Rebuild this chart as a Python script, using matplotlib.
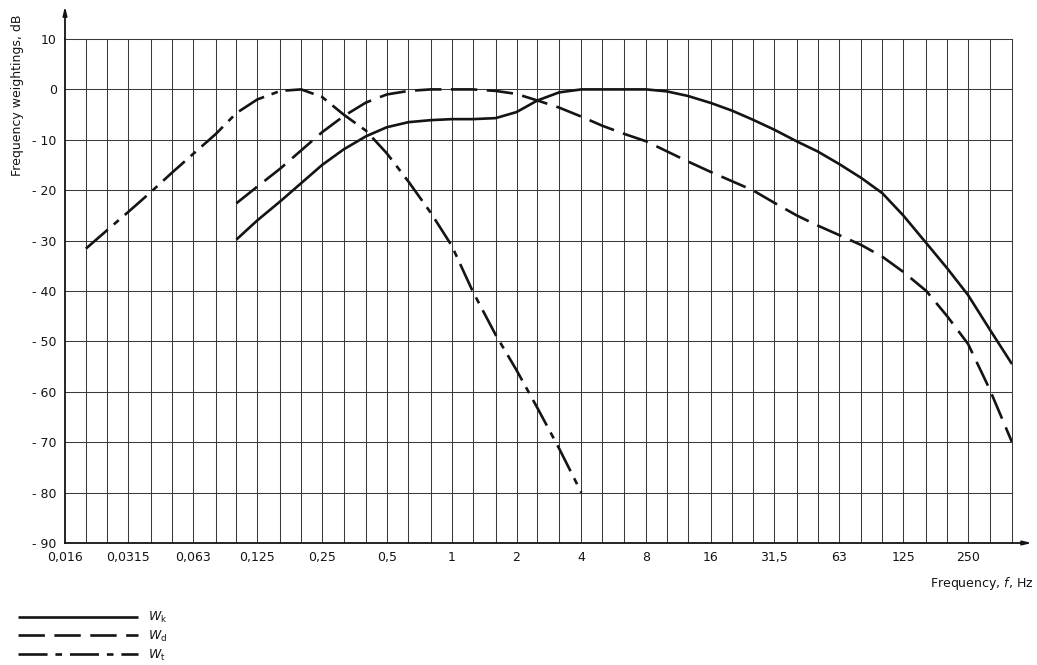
import matplotlib
matplotlib.use("Agg")
import matplotlib.pyplot as plt
from matplotlib.ticker import FixedLocator, NullFormatter

plt.rcParams['font.family'] = ['DejaVu Sans']

# Third-octave band centre frequencies (Hz) used for the grid
bands = [0.016, 0.02, 0.025, 0.0315, 0.04, 0.05, 0.063, 0.08, 0.1, 0.125, 0.16,
         0.2, 0.25, 0.315, 0.4, 0.5, 0.63, 0.8, 1, 1.25, 1.6, 2, 2.5, 3.15, 4,
         5, 6.3, 8, 10, 12.5, 16, 20, 25, 31.5, 40, 50, 63, 80, 100, 125, 160,
         200, 250, 315, 400]

# Labelled octave frequencies
tick_freqs = [0.016, 0.0315, 0.063, 0.125, 0.25, 0.5, 1, 2, 4, 8, 16, 31.5, 63, 125, 250]
tick_labels = ["0,016", "0,0315", "0,063", "0,125", "0,25", "0,5", "1", "2", "4",
               "8", "16", "31,5", "63", "125", "250"]

y_ticks = [10, 0, -10, -20, -30, -40, -50, -60, -70, -80, -90]
y_labels = ["10", "0", "- 10", "- 20", "- 30", "- 40", "- 50", "- 60", "- 70", "- 80", "- 90"]

# Wk weighting, 0.1 - 400 Hz
wk_f = [0.1, 0.125, 0.16, 0.2, 0.25, 0.315, 0.4, 0.5, 0.63, 0.8, 1, 1.25, 1.6, 2,
        2.5, 3.15, 4, 5, 6.3, 8, 10, 12.5, 16, 20, 25, 31.5, 40, 50, 63, 80, 100,
        125, 160, 200, 250, 315, 400]
wk_db = [-29.8, -26.0, -22.2, -18.6, -15.0, -11.9, -9.3, -7.5, -6.5, -6.1, -5.9,
         -5.9, -5.7, -4.5, -2.2, -0.6, 0.0, 0.0, 0.0, 0.0, -0.4, -1.3, -2.7, -4.2,
         -6.0, -8.0, -10.3, -12.3, -14.8, -17.6, -20.6, -25.0, -30.5, -35.5, -40.8,
         -47.6, -54.5]

# Wd weighting, 0.1 - 400 Hz
wd_f = wk_f
wd_db = [-22.6, -19.3, -15.7, -12.1, -8.5, -5.3, -2.6, -1.0, -0.3, 0.0, 0.0, 0.0,
         -0.3, -0.9, -2.2, -3.6, -5.4, -7.2, -8.8, -10.3, -12.3, -14.3, -16.4,
         -18.2, -20.0, -22.5, -25.0, -27.0, -28.9, -30.9, -33.2, -36.2, -40.0,
         -45.0, -50.5, -59.5, -70.0]

# Wt weighting, 0.02 - 4 Hz
wt_f = [0.02, 0.025, 0.0315, 0.04, 0.05, 0.063, 0.08, 0.1, 0.125, 0.16, 0.2, 0.25,
        0.315, 0.4, 0.5, 0.63, 0.8, 1, 1.25, 1.6, 2, 2.5, 3.15, 4]
wt_db = [-31.6, -28.0, -24.3, -20.4, -16.6, -12.8, -8.9, -4.7, -2.0, -0.3, 0.0,
         -1.5, -5.0, -8.2, -12.7, -18.3, -24.5, -31.0, -40.0, -48.7, -55.7, -63.2,
         -71.2, -80.0]

ink = "#141414"
grid_ink = "#3a3a3a"

fig = plt.figure(figsize=(10.37, 6.65), dpi=100)
ax = fig.add_axes([65 / 1037, 1 - 543 / 665, (1012 - 65) / 1037, (543 - 39) / 665])

ax.set_xscale("log")
ax.set_xlim(bands[0], bands[-1])
ax.set_ylim(-90, 10)

# grid: every third-octave band and every 10 dB
for f in bands[1:-1]:
    ax.axvline(f, color=grid_ink, lw=0.75, zorder=1)
for y in y_ticks[1:-1]:
    ax.axhline(y, color=grid_ink, lw=0.75, zorder=1)

lw = 1.9
l_wk, = ax.plot(wk_f, wk_db, color=ink, lw=lw, solid_capstyle="butt", zorder=3,
                label=r"$W_{\mathrm{k}}$")
l_wd, = ax.plot(wd_f, wd_db, color=ink, lw=lw, linestyle=(0, (10, 3.6)),
                dash_capstyle="butt", zorder=3, label=r"$W_{\mathrm{d}}$")
l_wt, = ax.plot(wt_f, wt_db, color=ink, lw=lw, linestyle=(0, (11, 3, 2.5, 3)),
                dash_capstyle="butt", zorder=3, label=r"$W_{\mathrm{t}}$")

ax.xaxis.set_major_locator(FixedLocator(tick_freqs))
ax.set_xticklabels(tick_labels)
ax.xaxis.set_minor_locator(FixedLocator([]))
ax.xaxis.set_minor_formatter(NullFormatter())
ax.set_yticks(y_ticks)
ax.set_yticklabels(y_labels)
ax.tick_params(axis="both", length=0, labelsize=9, colors=ink)
ax.tick_params(axis="x", pad=6)
ax.tick_params(axis="y", pad=6)

for s in ax.spines.values():
    s.set_color(grid_ink)
    s.set_linewidth(0.75)
ax.spines["left"].set_color(ink)
ax.spines["left"].set_linewidth(1.3)
ax.spines["bottom"].set_color(ink)
ax.spines["bottom"].set_linewidth(1.3)

# axis arrows
ax.annotate("", xy=(0, 1.065), xytext=(0, 1.0), xycoords="axes fraction",
            arrowprops=dict(arrowstyle="-|>,head_length=0.5,head_width=0.12",
                            color=ink, lw=1.3, shrinkA=0, shrinkB=0),
            annotation_clip=False)
ax.annotate("", xy=(1.021, 0), xytext=(1.0, 0), xycoords="axes fraction",
            arrowprops=dict(arrowstyle="-|>,head_length=0.5,head_width=0.12",
                            color=ink, lw=1.3, shrinkA=0, shrinkB=0),
            annotation_clip=False)

fig.text(18 / 1037, 1 - 95 / 665, "Frequency weightings, dB", rotation=90,
         ha="center", va="center", fontsize=9, color=ink)
fig.text(1033 / 1037, 1 - 583 / 665, r"Frequency, $f$, Hz", ha="right",
         va="center", fontsize=9, color=ink)

fig.legend(handles=[l_wk, l_wd, l_wt], loc="upper left",
           bbox_to_anchor=(18 / 1037, 1 - 610 / 665), frameon=False,
           handlelength=9.6, labelspacing=0.3, handletextpad=0.8,
           borderpad=0, borderaxespad=0, fontsize=9, labelcolor=ink)

fig.savefig("out.png", dpi=100, facecolor="white")
